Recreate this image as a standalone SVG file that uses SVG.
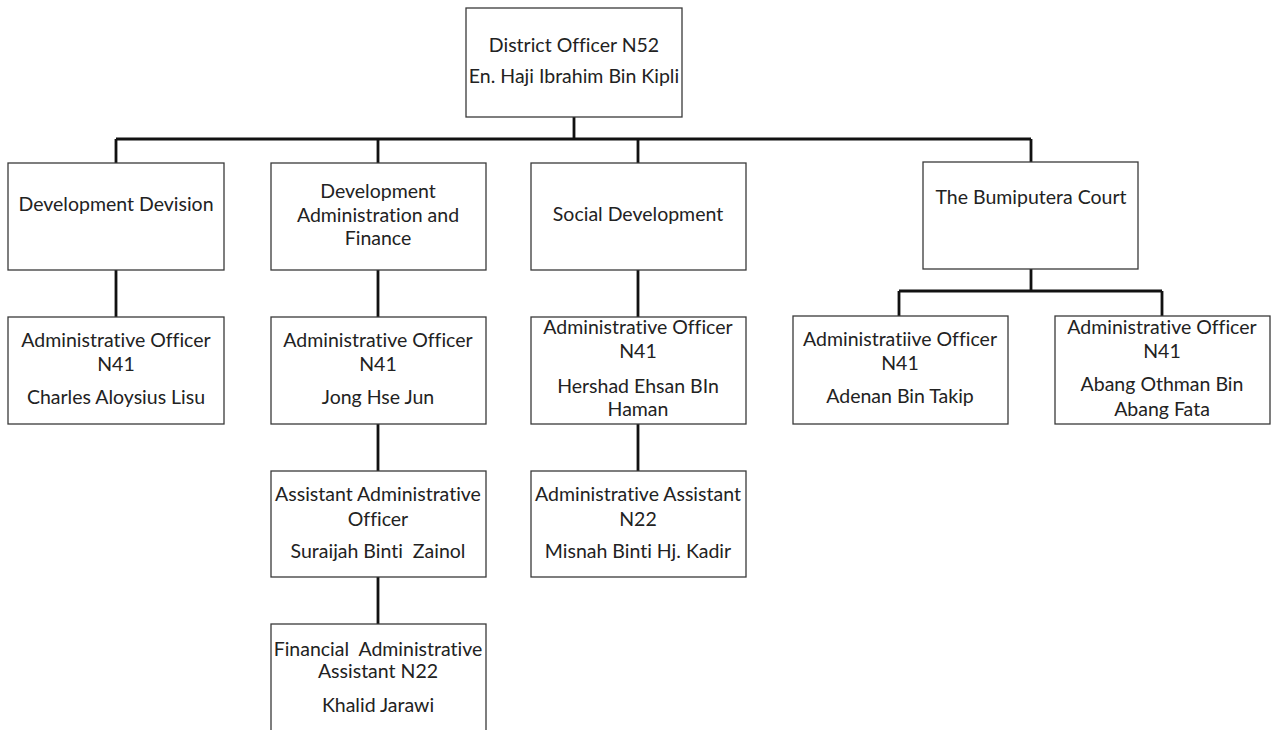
<svg xmlns="http://www.w3.org/2000/svg" width="1275" height="730" viewBox="0 0 1275 730">
<style>
.box{fill:#fff;stroke:#3a3a3a;stroke-width:1.3}
.t{font-family:Lato,"Liberation Sans",sans-serif;font-size:19.5px;fill:#222;text-anchor:middle;font-variant-ligatures:none;font-feature-settings:"liga" 0,"clig" 0}
.c{fill:none;stroke:#111;stroke-width:2.8}
</style>
<rect width="1275" height="730" fill="#fff"/>
<g id="connectors">
<path class="c" d="M574 117V139M116 139H1031M116 139V163M378 139V163M638 139V163M1031 139V162"/>
<path class="c" d="M116 270V317M378 270V317M638 270V317M378 424V471M638 424V471M378 577V624"/>
<path class="c" d="M1031 269V291M899 291H1162M899 291V316M1162 291V316"/>
</g>
<g id="district-officer">
<rect class="box" x="466" y="8" width="216" height="109"/>
<text class="t" x="574" y="52">District Officer N52</text>
<text class="t" x="574" y="83">En. Haji Ibrahim Bin Kipli</text>
</g>
<g id="development-devision">
<rect class="box" x="8" y="163" width="216" height="107"/>
<text class="t" x="116" y="211">Development Devision</text>
</g>
<g id="dev-admin-finance">
<rect class="box" x="271" y="163" width="215" height="107"/>
<text class="t" x="378" y="198">Development</text>
<text class="t" x="378" y="222">Administration and</text>
<text class="t" x="378" y="245">Finance</text>
</g>
<g id="social-development">
<rect class="box" x="531" y="163" width="215" height="107"/>
<text class="t" x="638" y="221">Social Development</text>
</g>
<g id="bumiputera-court">
<rect class="box" x="923" y="162" width="215" height="107"/>
<text class="t" x="1031" y="204">The Bumiputera Court</text>
</g>
<g id="ao-charles">
<rect class="box" x="8" y="317" width="216" height="107"/>
<text class="t" x="116" y="347">Administrative Officer</text>
<text class="t" x="116" y="371">N41</text>
<text class="t" x="116" y="404">Charles Aloysius Lisu</text>
</g>
<g id="ao-jong">
<rect class="box" x="271" y="317" width="215" height="107"/>
<text class="t" x="378" y="347">Administrative Officer</text>
<text class="t" x="378" y="371">N41</text>
<text class="t" x="378" y="404">Jong Hse Jun</text>
</g>
<g id="ao-hershad">
<rect class="box" x="531" y="317" width="215" height="107"/>
<text class="t" x="638" y="334">Administrative Officer</text>
<text class="t" x="638" y="358">N41</text>
<text class="t" x="638" y="393">Hershad Ehsan BIn</text>
<text class="t" x="638" y="416">Haman</text>
</g>
<g id="ao-adenan">
<rect class="box" x="793" y="316" width="215" height="108"/>
<text class="t" x="900" y="346">Administratiive Officer</text>
<text class="t" x="900" y="370">N41</text>
<text class="t" x="900" y="403">Adenan Bin Takip</text>
</g>
<g id="ao-abang">
<rect class="box" x="1055" y="316" width="215" height="108"/>
<text class="t" x="1162" y="334">Administrative Officer</text>
<text class="t" x="1162" y="358">N41</text>
<text class="t" x="1162" y="391">Abang Othman Bin</text>
<text class="t" x="1162" y="416">Abang Fata</text>
</g>
<g id="aao-suraijah">
<rect class="box" x="271" y="471" width="215" height="106"/>
<text class="t" x="378" y="501">Assistant Administrative</text>
<text class="t" x="378" y="526">Officer</text>
<text class="t" x="378" y="558" xml:space="preserve">Suraijah Binti  Zainol</text>
</g>
<g id="aa-misnah">
<rect class="box" x="531" y="471" width="215" height="106"/>
<text class="t" x="638" y="501">Administrative Assistant</text>
<text class="t" x="638" y="526">N22</text>
<text class="t" x="638" y="558">Misnah Binti Hj. Kadir</text>
</g>
<g id="faa-khalid">
<rect class="box" x="271" y="624" width="215" height="120"/>
<text class="t" x="378" y="656" xml:space="preserve">Financial  Administrative</text>
<text class="t" x="378" y="678">Assistant N22</text>
<text class="t" x="378" y="712">Khalid Jarawi</text>
</g>
</svg>
